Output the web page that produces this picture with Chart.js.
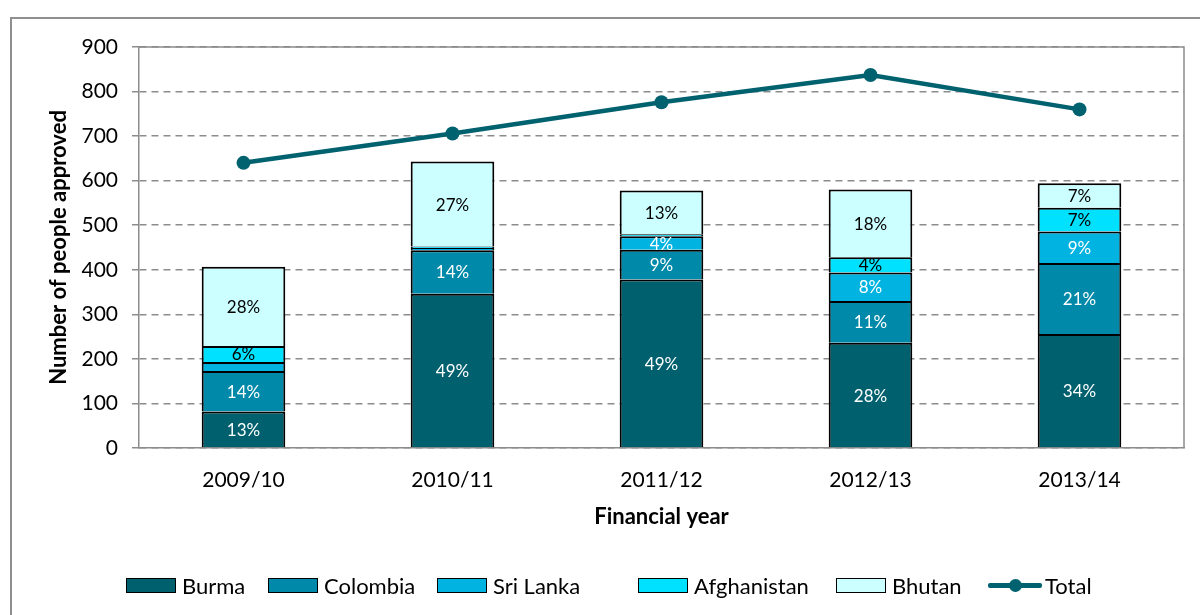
<!DOCTYPE html>
<html>
<head>
<meta charset="utf-8">
<script src="https://cdn.jsdelivr.net/npm/chart.js@4.4.1/dist/chart.umd.min.js"></script>
<style>
  html, body { margin: 0; padding: 0; background: #fff; overflow: hidden; }
  #wrap { position: relative; width: 1200px; height: 615px; }
  #frame { position: absolute; left: 10px; top: 17px; width: 1300px; height: 700px;
           border: 2px solid #8f8f8f; box-sizing: border-box; }
  #chart { position: absolute; left: 0; top: 0; }
  #legend { position: absolute; left: 0; top: 0; width: 1200px; height: 615px;
            font-family: Lato, "Open Sans", sans-serif; font-size: 22px; color: #000; }
  .item { position: absolute; top: 571px; height: 28px; display: flex; align-items: center; white-space: nowrap; }
  .box { width: 50px; height: 15px; border: 1.5px solid #000; box-sizing: border-box; margin-right: 6px; }
  .lineKey { position: relative; width: 54px; height: 15px; margin-right: 3px; }
  .lineKey .bar { position: absolute; left: 0; right: 0; top: 5.5px; height: 4.5px; border-radius: 2px; }
  .lineKey .dot { position: absolute; left: 21px; top: 1px; width: 13px; height: 13px; border-radius: 50%; }
</style>
</head>
<body>
<div id="wrap">
  <div id="frame"></div>
  <canvas id="chart" width="1200" height="615"></canvas>
  <div id="legend"></div>
</div>
<script>
// Financial years on the category axis
const years = ['2009/10', '2010/11', '2011/12', '2012/13', '2013/14'];

// People approved per country of origin
const burma       = [82, 346, 378, 236, 256];
const colombia    = [91, 98, 67, 94, 159];
const sriLanka    = [20, 5, 30, 64, 71];
const afghanistan = [36, 3, 5, 34, 53];
const bhutan      = [178, 191, 98, 152, 55];

// Total people approved (all countries)
const total = [640, 706, 776, 837, 760];

// Value axis range
const yMin = 0, yMax = 900, yStep = 100;

const FONT = 'Lato, "Open Sans", sans-serif';
const GRID = '#8c8c8c';

const series = [
  { label: 'Burma',       data: burma,       fill: '#00606E', text: '#ffffff' },
  { label: 'Colombia',    data: colombia,    fill: '#0089A9', text: '#ffffff' },
  { label: 'Sri Lanka',   data: sriLanka,    fill: '#00B3E0', text: '#ffffff' },
  { label: 'Afghanistan', data: afghanistan, fill: '#00E0FF', text: '#000000' },
  { label: 'Bhutan',      data: bhutan,      fill: '#CCFFFF', text: '#000000' }
];
const totalColor = '#00616F';

// Percentage-of-total labels inside each stacked segment (shown from 4% up)
const pctLabels = {
  id: 'pctLabels',
  afterDatasetsDraw(chart) {
    const ctx = chart.ctx;
    ctx.save();
    ctx.font = '17px ' + FONT;
    ctx.textAlign = 'center';
    ctx.textBaseline = 'middle';
    chart.data.datasets.forEach((ds, i) => {
      if (ds.type !== 'bar') return;
      const meta = chart.getDatasetMeta(i);
      meta.data.forEach((el, j) => {
        const pct = Math.round(ds.data[j] / total[j] * 100);
        if (pct < 4) return;
        ctx.fillStyle = ds.labelColor;
        ctx.fillText(pct + '%', el.x, (el.y + el.base) / 2 + 1);
      });
    });
    ctx.restore();
  }
};

// Solid frame on the top and right of the plot area
const plotFrame = {
  id: 'plotFrame',
  beforeDatasetsDraw(chart) {
    const { left, top, right, bottom } = chart.chartArea;
    const ctx = chart.ctx;
    ctx.save();
    ctx.strokeStyle = GRID;
    ctx.lineWidth = 1.5;
    ctx.beginPath();
    ctx.moveTo(left, top);
    ctx.lineTo(right, top);
    ctx.lineTo(right, bottom);
    ctx.stroke();
    ctx.restore();
  }
};

const datasets = [
  {
    type: 'line', label: 'Total', data: total, stack: 'total', order: 0,
    borderColor: totalColor, backgroundColor: totalColor, borderWidth: 4.5,
    pointRadius: 7, pointHoverRadius: 7, pointBackgroundColor: totalColor,
    pointBorderWidth: 0, tension: 0
  }
].concat(series.map(s => ({
  type: 'bar', label: s.label, data: s.data, stack: 'countries', order: 1,
  backgroundColor: s.fill, borderColor: '#000', borderWidth: 2,
  labelColor: s.text
})));

new Chart(document.getElementById('chart'), {
  data: { labels: years, datasets },
  options: {
    responsive: false,
    animation: false,
    devicePixelRatio: 1,
    layout: { padding: { top: 47, right: 16, bottom: 75, left: 0 } },
    plugins: { legend: { display: false }, tooltip: { enabled: false } },
    datasets: { bar: { categoryPercentage: 1, barPercentage: 0.4 } },
    scales: {
      x: {
        stacked: true,
        grid: { display: false, drawTicks: false },
        border: { color: GRID, width: 1.5 },
        ticks: { padding: 20, color: '#000', font: { family: FONT, size: 21 } },
        title: { display: true, text: 'Financial year', color: '#000',
                 font: { family: FONT, size: 22, weight: 'bold' }, padding: { top: 0, bottom: 10 } },
        afterFit(scale) { scale.height = 92; }
      },
      y: {
        stacked: true, min: yMin, max: yMax,
        grid: { color: GRID, lineWidth: 1.5, tickLength: 7 },
        border: { color: GRID, width: 1.5, dash: [7, 5] },
        ticks: { stepSize: yStep, padding: 14, color: '#000', font: { family: FONT, size: 21 } },
        title: { display: true, text: 'Number of people approved', color: '#000',
                 font: { family: FONT, size: 22, weight: 'bold' }, padding: { top: 46, bottom: 0 } },
        afterFit(scale) { scale.width = 139; }
      }
    }
  },
  plugins: [plotFrame, pctLabels]
});

// Legend row below the chart
const legendLeft = [126, 268, 437, 638, 836, 988];
const legend = document.getElementById('legend');
series.forEach((s, i) => {
  const item = document.createElement('div');
  item.className = 'item';
  item.style.left = legendLeft[i] + 'px';
  const box = document.createElement('div');
  box.className = 'box';
  box.style.background = s.fill;
  item.appendChild(box);
  item.appendChild(document.createTextNode(s.label));
  legend.appendChild(item);
});
const tItem = document.createElement('div');
tItem.className = 'item';
tItem.style.left = legendLeft[5] + 'px';
tItem.innerHTML = '<div class="lineKey"><div class="bar" style="background:' + totalColor +
  '"></div><div class="dot" style="background:' + totalColor + '"></div></div>Total';
legend.appendChild(tItem);
</script>
</body>
</html>
